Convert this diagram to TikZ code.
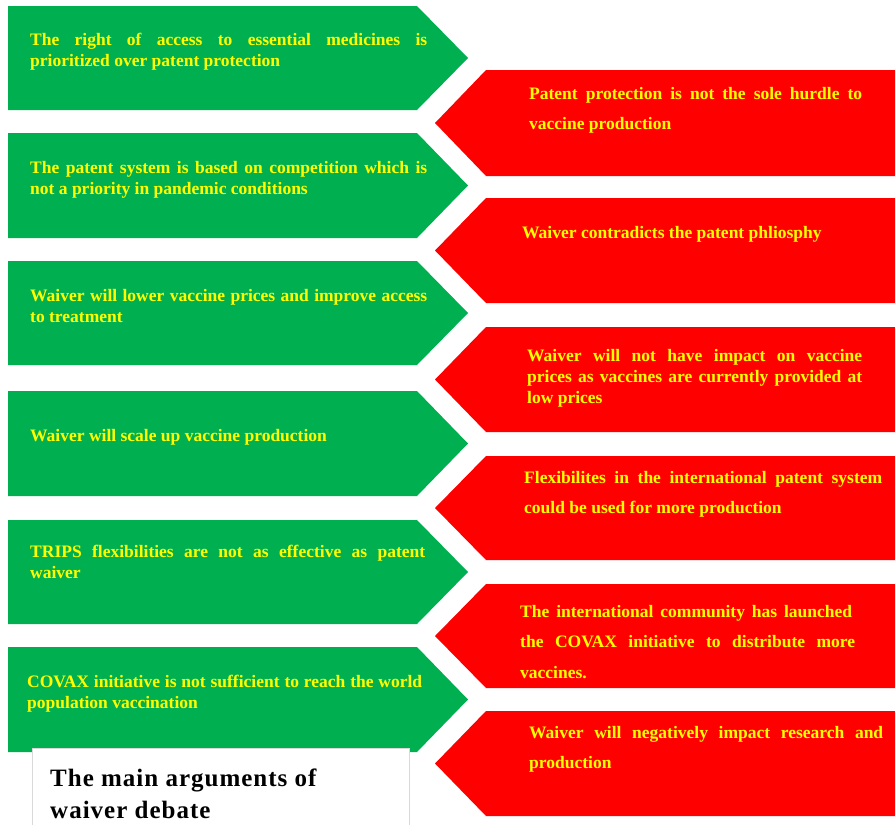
\documentclass[tikz,border=0pt]{standalone}
\usepackage{fontspec}
\setmainfont{Liberation Serif}
\definecolor{progreen}{HTML}{00B050}
\definecolor{conred}{HTML}{FF0000}
\definecolor{argtext}{HTML}{FFFF00}
\definecolor{frame}{HTML}{D9D9D9}

% a justified line of fixed width
\newcommand{\jline}[2]{\makebox[#1][s]{#2}}

\begin{document}
\begin{tikzpicture}[x=1pt,y=-1pt,
  gtxt/.style={font=\fontsize{17.5}{21.5}\selectfont\bfseries, text=argtext, inner sep=0pt, anchor=base west},
  rtxt/.style={font=\fontsize{17.5}{30.5}\selectfont\bfseries, text=argtext, inner sep=0pt, anchor=base west},
  rtxttight/.style={rtxt, font=\fontsize{17.5}{21}\selectfont\bfseries},
  ttl/.style={font=\fontsize{25}{32}\selectfont\bfseries\addfontfeature{LetterSpace=4}, text=black, inner sep=0pt, anchor=base west}]
\useasboundingbox (0,0) rectangle (895,825);

% arguments in favour: right-pointing green arrows (top, bottom)
\foreach \t/\b in {6/110, 133/238, 261/365, 391/496, 520/624, 647/752}{
  \fill[progreen] (8,\t) -- (417,\t) -- (468,{(\t+\b)/2}) -- (417,\b) -- (8,\b) -- cycle;
}
% arguments against: left-pointing red arrows (top, bottom)
\foreach \t/\b in {70/176, 198/303, 327/432, 456/560, 584/688, 711/816}{
  \fill[conred] (895,\t) -- (486,\t) -- (435,{(\t+\b)/2}) -- (486,\b) -- (895,\b) -- cycle;
}

% texts in favour
\node[gtxt] (g1) at (30,45) {\parbox[t]{397pt}{\jline{397pt}{The right of access to essential medicines is}\\prioritized over patent protection}};
\node[gtxt] (g2) at (30,173) {\parbox[t]{397pt}{\jline{397pt}{The patent system is based on competition which is}\\not a priority in pandemic conditions}};
\node[gtxt] (g3) at (30,301) {\parbox[t]{397pt}{\jline{397pt}{Waiver will lower vaccine prices and improve access}\\to treatment}};
\node[gtxt] (g4) at (30,441) {Waiver will scale up vaccine production};
\node[gtxt] (g5) at (30,557) {\parbox[t]{395pt}{\jline{395pt}{TRIPS flexibilities are not as effective as patent}\\waiver}};
\node[gtxt] (g6) at (27,687) {\parbox[t]{395pt}{\jline{395pt}{COVAX initiative is not sufficient to reach the world}\\population vaccination}};

% texts against
\node[rtxt] (r1) at (529,99) {\parbox[t]{333pt}{\jline{333pt}{Patent protection is not the sole hurdle to}\\vaccine production}};
\node[rtxt] (r2) at (522,238) {Waiver contradicts the patent phliosphy};
\node[rtxttight] (r3) at (527,361) {\parbox[t]{335pt}{\jline{335pt}{Waiver will not have impact on vaccine}\\\jline{335pt}{prices as vaccines are currently provided at}\\low prices}};
\node[rtxt] (r4) at (524,483) {\parbox[t]{358pt}{\jline{358pt}{Flexibilites in the international patent system}\\could be used for more production}};
\node[rtxt] (r5) at (520,617) {\parbox[t]{335pt}{\jline{332pt}{The international community has launched}\\\jline{335pt}{the COVAX initiative to distribute more}\\vaccines.}};
\node[rtxt] (r6) at (529,738) {\parbox[t]{354pt}{\jline{354pt}{Waiver will negatively impact research and}\\production}};

% title panel
\filldraw[fill=white, draw=frame, line width=0.8pt] (32,748) rectangle (409,830);
\node[ttl] (title) at (50,786) {\parbox[t]{350pt}{The main arguments of\\waiver debate}};
\end{tikzpicture}
\end{document}
